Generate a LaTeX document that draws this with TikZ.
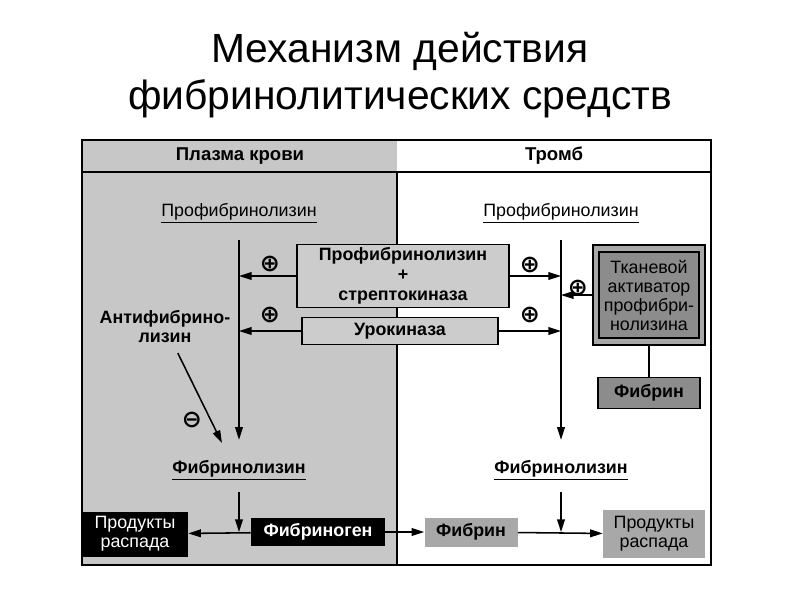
\documentclass[tikz,border=0pt]{standalone}
\usepackage{fontspec}
\setmainfont{Liberation Sans}
\newfontfamily\symfont{DejaVu Sans}
\usetikzlibrary{arrows.meta}
\definecolor{plasma}{gray}{0.78}
\definecolor{boxlight}{gray}{0.80}
\definecolor{boxmid}{gray}{0.66}
\definecolor{boxdark}{gray}{0.55}
\newcommand\px{0.025cm}
\begin{document}
\begin{tikzpicture}[x=\px,y=-\px,
    lbl/.style={font=\fontsize{12.7}{13.5}\selectfont},
    blbl/.style={font=\bfseries\fontsize{12.7}{13.5}\selectfont},
    arr/.style={-{Triangle[length=9pt,width=5.5pt]},line width=1.1pt},
    ln/.style={line width=1.1pt},
    agent/.style={blbl,draw,line width=1.1pt,fill=boxlight,inner sep=0pt,align=center},
    product/.style={lbl,inner sep=0pt,align=center},
    sign/.style={font=\symfont\bfseries\fontsize{17}{17}\selectfont,inner sep=0pt}]
    \useasboundingbox (0,0) rectangle (800,600);
    \node[font=\fontsize{29}{33}\selectfont,align=center] (title) at (400,75)
        {Механизм действия\\фибринолитических средств};
    \fill[plasma] (82,140) rectangle (397,565);
    \draw[line width=1.1pt] (397,172) -- (397,565);
    \draw[line width=1.4pt] (82,140) rectangle (711,565);
    \draw[line width=1.4pt] (82,172) -- (711,172);
    \node[blbl,font=\bfseries\fontsize{13.2}{14}\selectfont] (plasmahd) at (240,156) {Плазма крови};
    \node[blbl,font=\bfseries\fontsize{13.2}{14}\selectfont] (thrombhd) at (554,156) {Тромб};
    \node[lbl] (pfL) at (239,213) {\underline{Профибринолизин}};
    \node[lbl] (pfR) at (561,213) {\underline{Профибринолизин}};
    \node[blbl] (flL) at (239,470) {\underline{Фибринолизин}};
    \node[blbl] (flR) at (561,470) {\underline{Фибринолизин}};
    \node[agent,font=\bfseries\fontsize{12.7}{14.2}\selectfont,
        minimum width=212*\px,minimum height=63*\px] (pstr) at (403,276)
        {Профибринолизин\\+\\стрептокиназа};
    \node[agent,minimum width=196*\px,minimum height=27*\px] (uro) at (400,331) {Урокиназа};
    \node[draw,line width=1.1pt,fill=boxmid,minimum width=112*\px,minimum height=100*\px] (tpa) at (649,295) {};
    \node[lbl,draw,line width=1.1pt,fill=boxdark,inner sep=0pt,align=center,
        minimum width=100*\px,minimum height=86*\px] (tpain) at (649,295)
        {Тканевой\\активатор\\профибри-\\нолизина};
    \node[agent,fill=boxdark,minimum width=102*\px,minimum height=31*\px] (fbr) at (649,393) {Фибрин};
    \node[blbl,align=center] (afl) at (165,327) {Антифибрино-\\лизин};
    \coordinate (inh) at (222,443);
    \node[product,fill=black,text=white,minimum width=106*\px,minimum height=45*\px] (prodL) at (135,534) {Продукты\\распада};
    \node[blbl,fill=black,text=white,inner sep=0pt,minimum width=134*\px,minimum height=28*\px] (fgn) at (318,532) {Фибриноген};
    \node[blbl,fill=boxmid,inner sep=0pt,minimum width=93*\px,minimum height=29*\px] (fibr) at (471,532) {Фибрин};
    \node[product,fill=boxmid,minimum width=102*\px,minimum height=48*\px] (prodR) at (654,534) {Продукты\\распада};
    \draw[arr,shorten <=9pt,shorten >=11pt] (pfL) -- (flL);
    \draw[arr,shorten <=9pt,shorten >=11pt] (pfR) -- (flR);
    \draw[arr] (pstr.west) -- (pstr.west -| pfL);
    \draw[arr] (uro.west) -- (uro.west -| pfL);
    \draw[arr] (pstr.east) -- (pstr.east -| pfR);
    \draw[arr] (uro.east) -- (uro.east -| pfR);
    \draw[arr] (tpa.west) -- (tpa.west -| pfR);
    \draw[ln] (tpa) -- (fbr);
    \draw[arr,shorten <=4pt] (afl) -- (inh);
    \node[sign] (plus1) at (270,264) {⊕};
    \node[sign] (plus2) at (270,315) {⊕};
    \node[sign] (plus3) at (530,265) {⊕};
    \node[sign] (plus4) at (530,315) {⊕};
    \node[sign] (plus5) at (578,288) {⊕};
    \node[sign] (minus) at (192,420) {⊖};
    \draw[arr] (fgn) -- (prodL);
    \draw[arr] (fgn) -- (fibr);
    \draw[arr] (fibr) -- (prodR);
    \draw[arr,shorten <=5pt] (flL) -- (flL |- fgn.west);
    \draw[arr,shorten <=5pt] (flR) -- (flR |- fibr.east);
\end{tikzpicture}
\end{document}
